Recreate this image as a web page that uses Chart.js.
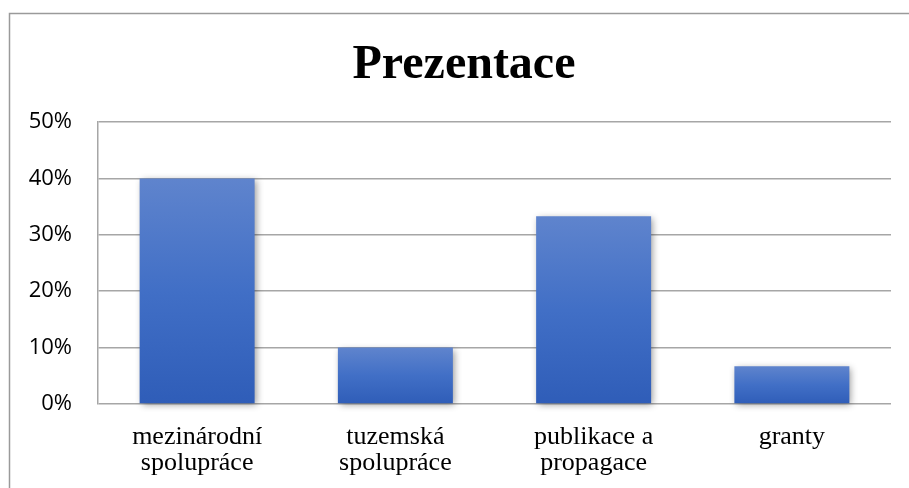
<!DOCTYPE html>
<html>
<head>
<meta charset="utf-8">
<script src="https://cdn.jsdelivr.net/npm/chart.js@4/dist/chart.umd.min.js"></script>
<style>
html,body{margin:0;padding:0;background:#fff;}
#wrap{position:relative;width:909px;height:488px;}
</style>
</head>
<body>
<div id="wrap"><canvas id="c" width="909" height="488"></canvas></div>
<script>
const titleText = 'Prezentace';
const categories = [['mezinárodní','spolupráce'], ['tuzemská','spolupráce'], ['publikace a','propagace'], ['granty']];
const values = [40, 10, 33.3, 6.7];
const yTicks = [0, 10, 20, 30, 40, 50];

const frame = {
  id: 'frame',
  beforeDraw(chart) {
    const ctx = chart.ctx;
    ctx.save();
    ctx.fillStyle = '#fff';
    ctx.fillRect(0, 0, chart.width, chart.height);
    ctx.strokeStyle = '#9a9a9a';
    ctx.lineWidth = 1.5;
    ctx.strokeRect(9.5, 13.5, 1200, 1200);
    ctx.restore();
  },
  afterDraw(chart) {
    const ctx = chart.ctx;
    ctx.save();
    ctx.fillStyle = '#000';
    ctx.font = "bold 48px 'Liberation Serif','Times New Roman',serif";
    ctx.textAlign = 'center';
    ctx.textBaseline = 'alphabetic';
    ctx.fillText(titleText, 464, 78);
    ctx.restore();
  }
};
const shadow = {
  id: 'shadow',
  beforeDatasetsDraw(chart) {
    const ctx = chart.ctx;
    ctx.save();
    ctx.shadowColor = 'rgba(0,0,0,0.4)';
    ctx.shadowBlur = 7;
    ctx.shadowOffsetX = 2;
    ctx.shadowOffsetY = 2;
  },
  afterDatasetsDraw(chart) { chart.ctx.restore(); }
};

function barGradient(context) {
  const chart = context.chart;
  if (!chart.chartArea || context.type !== 'data') return '#4472C4';
  const ys = chart.scales.y;
  const top = ys.getPixelForValue(context.parsed.y);
  const bottom = ys.getPixelForValue(0);
  const g = chart.ctx.createLinearGradient(0, top, 0, bottom);
  g.addColorStop(0, '#5F84CD');
  g.addColorStop(0.5, '#416FC6');
  g.addColorStop(1, '#2F5DB8');
  return g;
}

new Chart(document.getElementById('c'), {
  type: 'bar',
  data: {
    labels: categories,
    datasets: [{
      data: values,
      backgroundColor: barGradient,
      borderWidth: 0,
      categoryPercentage: 1.0,
      barPercentage: 0.58,
      clip: false
    }]
  },
  options: {
    responsive: false,
    animation: false,
    events: [],
    layout: { padding: { left: 9, right: 18, top: 122, bottom: 0 } },
    plugins: {
      legend: { display: false },
      tooltip: { enabled: false },
      title: { display: false }
    },
    scales: {
      x: {
        grid: { display: false, drawTicks: false },
        border: { display: false },
        ticks: {
          color: '#000',
          padding: 20,
          maxRotation: 0,
          autoSkip: false,
          font: { family: "'Liberation Serif','Times New Roman',serif", size: 26, lineHeight: 1.0 }
        },
        afterFit(s) { s.height = 84; }
      },
      y: {
        min: 0,
        max: 50,
        afterBuildTicks(s) { s.ticks = yTicks.map(v => ({ value: v })); },
        grid: { color: '#a6a6a6', lineWidth: 1.5, drawTicks: false },
        border: { display: true, color: '#a6a6a6', width: 1.5 },
        ticks: {
          color: '#000',
          padding: 26,
          font: { family: "'Open Sans','Liberation Sans',sans-serif", size: 22 },
          callback: v => v + '%'
        },
        afterFit(s) { s.width = 89; }
      }
    }
  },
  plugins: [frame, shadow]
});
</script>
</body>
</html>
